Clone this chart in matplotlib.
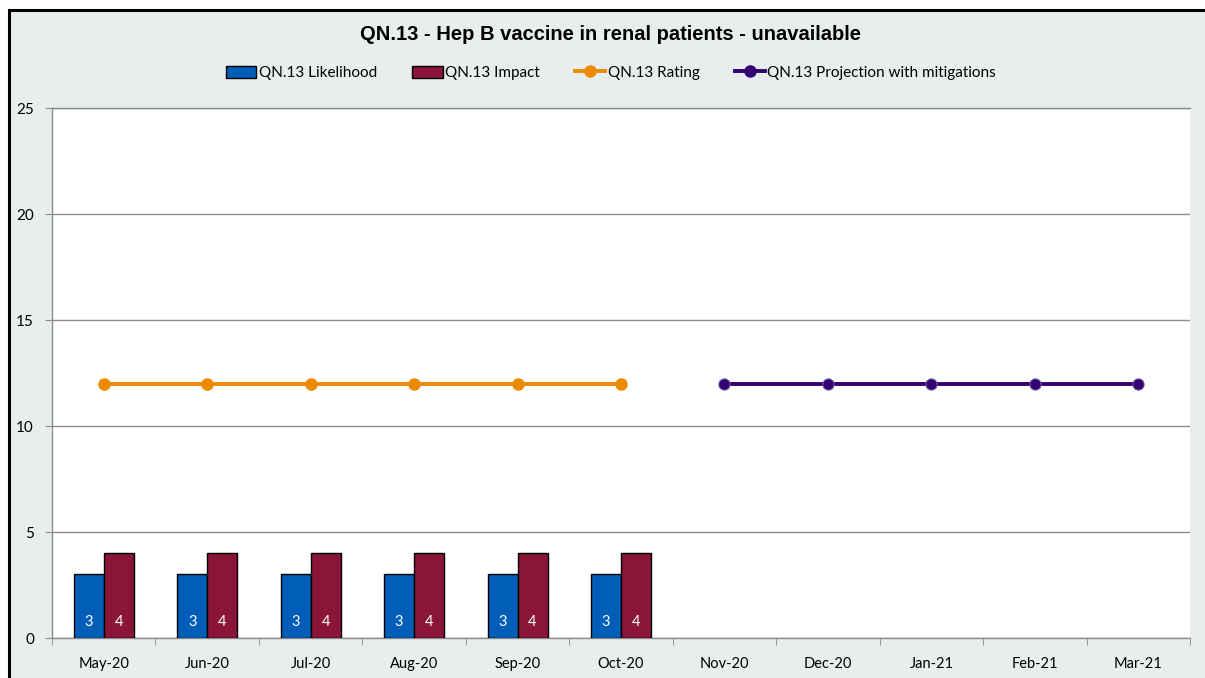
import numpy as np
import matplotlib.pyplot as plt
from matplotlib.patches import Rectangle, Patch
from matplotlib.lines import Line2D

# Datos del gráfico
months = ['May-20', 'Jun-20', 'Jul-20', 'Aug-20', 'Sep-20', 'Oct-20',
          'Nov-20', 'Dec-20', 'Jan-21', 'Feb-21', 'Mar-21']
likelihood = [3, 3, 3, 3, 3, 3, np.nan, np.nan, np.nan, np.nan, np.nan]
impact = [4, 4, 4, 4, 4, 4, np.nan, np.nan, np.nan, np.nan, np.nan]
rating = [12, 12, 12, 12, 12, 12, np.nan, np.nan, np.nan, np.nan, np.nan]
projection = [np.nan, np.nan, np.nan, np.nan, np.nan, np.nan, 12, 12, 12, 12, 12]

c_blue = '#005EB8'
c_red = '#8A1538'
c_orange = '#ED8B00'
c_purple = '#330072'
c_grid = '#8C8C8C'
font_txt = ['Lato', 'DejaVu Sans']

W, H = 1205, 678
fig = plt.figure(figsize=(W / 100, H / 100), dpi=100)
fig.patch.set_facecolor('white')

# Fondo del área del gráfico con borde negro (solo arriba e izquierda visibles)
fig.patches.append(Rectangle((9 / W, -0.05), 1.1, (H - 10) / H + 0.05,
                             transform=fig.transFigure, facecolor='#E8EDED',
                             edgecolor='black', linewidth=2.2, zorder=-5))

ax = fig.add_axes([52 / W, 40 / H, 1138 / W, 530 / H])
ax.set_zorder(2)
ax.set_facecolor('white')

x = np.arange(len(months))
bw = 0.29
ax.bar(x - bw / 2, likelihood, bw, color=c_blue, edgecolor='black', linewidth=1, zorder=3)
ax.bar(x + bw / 2, impact, bw, color=c_red, edgecolor='black', linewidth=1, zorder=3)

# Etiquetas blancas dentro de las barras
for xi, v in zip(x, likelihood):
    if not np.isnan(v):
        ax.text(xi - bw / 2, 0.75, str(int(v)), color='white', ha='center', va='center',
                fontsize=10.5, family=font_txt, zorder=4)
for xi, v in zip(x, impact):
    if not np.isnan(v):
        ax.text(xi + bw / 2, 0.75, str(int(v)), color='white', ha='center', va='center',
                fontsize=10.5, family=font_txt, zorder=4)

ax.plot(x, rating, color=c_orange, linewidth=2.8, marker='o', markersize=8, zorder=5)
ax.plot(x, projection, color=c_purple, linewidth=2.8, marker='o', markersize=8,
        markeredgecolor='#6A4E9A', markeredgewidth=0.8, zorder=5)

ax.set_xlim(-0.5, len(months) - 0.5)
ax.set_ylim(0, 25)
ax.set_yticks(range(0, 26, 5))
ax.yaxis.grid(True, color=c_grid, linewidth=1)
ax.set_axisbelow(True)

ax.set_xticks(x)
ax.set_xticklabels(months, family=font_txt, fontsize=10.5)
ax.set_xticks(np.arange(-0.5, len(months), 1), minor=True)
ax.tick_params(axis='x', which='major', length=0, pad=14)
ax.tick_params(axis='x', which='minor', length=5, color=c_grid, direction='out')
ax.tick_params(axis='y', length=5, color=c_grid, pad=8, labelsize=11)
for lab in ax.get_yticklabels():
    lab.set_family(font_txt)

for s in ['left', 'bottom', 'top']:
    ax.spines[s].set_color(c_grid)
    ax.spines[s].set_linewidth(1)
ax.spines['right'].set_visible(False)

fig.text(0.507, 1 - 35 / H, 'QN.13 - Hep B vaccine in renal patients - unavailable',
         ha='center', va='center', fontsize=14.5, fontweight='bold',
         family=['Liberation Sans', 'DejaVu Sans'])

handles = [
    Patch(facecolor=c_blue, edgecolor='black', linewidth=1),
    Patch(facecolor=c_red, edgecolor='black', linewidth=1),
    Line2D([], [], color=c_orange, linewidth=2.8, marker='o', markersize=8),
    Line2D([], [], color=c_purple, linewidth=2.8, marker='o', markersize=8),
]
labels = ['QN.13 Likelihood', 'QN.13 Impact', 'QN.13 Rating', 'QN.13 Projection with mitigations']
fig.legend(handles, labels, loc='center', bbox_to_anchor=(0.507, 1 - 73 / H), ncol=4,
           frameon=False, prop={'family': font_txt, 'size': 11}, handlelength=2.0,
           handleheight=0.9, handletextpad=0.15, columnspacing=2.3)

fig.savefig('out.png', dpi=100)
